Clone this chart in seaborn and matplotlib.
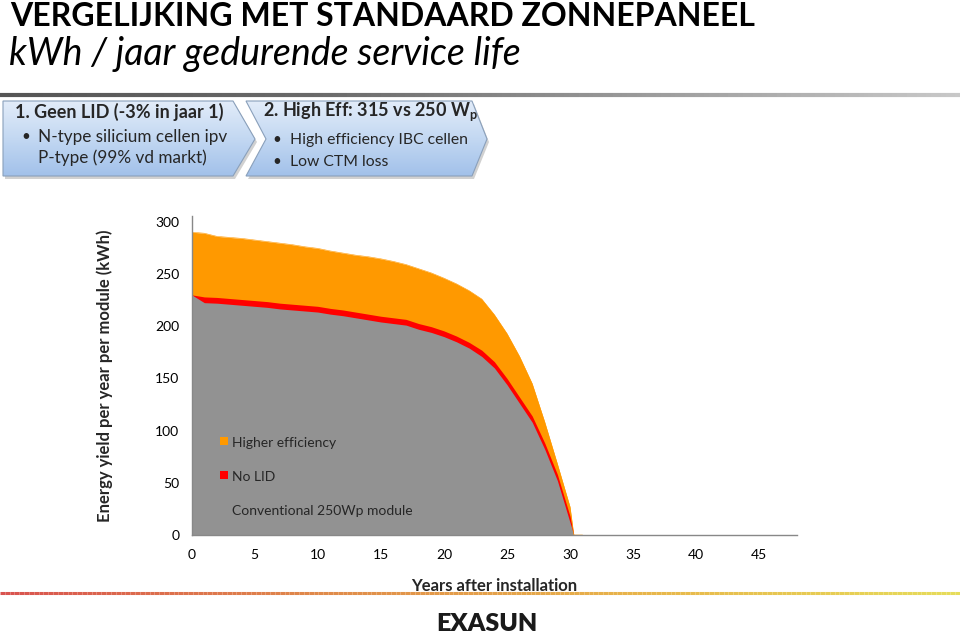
import numpy as np
import pandas as pd
import matplotlib
matplotlib.use("Agg")
import matplotlib.pyplot as plt
import seaborn as sns
from matplotlib.patches import Polygon
from matplotlib.collections import LineCollection
from matplotlib.colors import LinearSegmentedColormap

# ---------------- data ----------------
years = [0, 1, 2, 3, 4, 5, 6, 7, 8, 9, 10, 11, 12, 13, 14, 15, 16, 17, 18, 19, 20,
         21, 22, 23, 24, 25, 26, 27, 28, 29, 30, 30.3, 31]
conventional = [230, 222.5, 222, 221, 220, 219, 218, 216.5, 215.5, 214.5, 213.5, 211.5, 210,
                208, 206, 204, 202.5, 201, 197, 194, 190, 185, 179, 171, 160, 144, 126,
                108, 82, 52, 12, 0, 0]
no_lid = [230, 228, 227.5, 226.5, 225.5, 224.5, 223.5, 222, 221, 220, 219, 217, 215.5,
          213.5, 211.5, 209.5, 208, 206.5, 202.5, 199.5, 195.5, 190.5, 184.5, 177, 166, 150, 132,
          114, 88, 58, 18, 0, 0]
higher_eff = [290, 289, 286, 285, 284, 282.5, 281, 279.5, 278, 276, 274.5, 272, 270,
              268, 266.5, 264.5, 262, 259, 255, 251, 246, 240.5, 234, 226, 211, 193, 171,
              145, 108, 68, 27, 0, 0]
series_labels = ["Higher efficiency", "No LID", "Conventional 250Wp module"]
series_colors = ["#FF9900", "#FF0000", "#929292"]
x_ticks = [0, 5, 10, 15, 20, 25, 30, 35, 40, 45]
y_ticks = [0, 50, 100, 150, 200, 250, 300]

title = "VERGELIJKING MET STANDAARD ZONNEPANEEL"
subtitle = "kWh / jaar gedurende service life"
box1_title = "1. Geen LID (-3% in jaar 1)"
box1_items = ["N-type silicium cellen ipv", "P-type (99% vd markt)"]
box2_title = "2. High Eff: 315 vs 250 W$_\\mathregular{p}$"
box2_items = ["High efficiency IBC cellen", "Low CTM loss"]

df = pd.DataFrame({"year": years, "conventional": conventional,
                   "no_lid": no_lid, "higher_eff": higher_eff})

# ---------------- figure ----------------
sns.set_theme(style="white")
plt.rcParams["font.family"] = ["Lato", "DejaVu Sans"]

W, H = 960, 638
fig = plt.figure(figsize=(W / 100, H / 100), dpi=100)

# background overlay in pixel coordinates
bg = fig.add_axes([0, 0, 1, 1], zorder=0)
bg.set_xlim(0, W)
bg.set_ylim(H, 0)
bg.axis("off")

# title
bg.text(10, 16, title, fontsize=23, fontweight="bold", va="center", ha="left",
        color="black")
bg.text(9, 54, subtitle, fontsize=27, style="italic", va="center", ha="left",
        color="black")

# top gradient line (dark gray fading)
xs = np.linspace(0, W, 200)
segs = [[(xs[i], 95), (xs[i + 1], 95)] for i in range(len(xs) - 1)]
cm_top = LinearSegmentedColormap.from_list("top", ["#555555", "#6a6a6a", "#9a9a9a", "#c8c8c8"])
lc = LineCollection(segs, colors=cm_top(np.linspace(0, 1, len(segs))), linewidths=3)
bg.add_collection(lc)

# bottom gradient line (red-orange-yellow)
segs2 = [[(xs[i], 593), (xs[i + 1], 593)] for i in range(len(xs) - 1)]
cm_bot = LinearSegmentedColormap.from_list("bot", ["#d9534f", "#e08a4a", "#e8b54a", "#e6dc5a"])
lc2 = LineCollection(segs2, colors=cm_bot(np.linspace(0, 1, len(segs2))), linewidths=2.2)
bg.add_collection(lc2)

# chevron boxes with gradient fill
grad = np.linspace(0, 1, 100).reshape(-1, 1)
cm_box = LinearSegmentedColormap.from_list("box", ["#e2ecf9", "#c3d8f2", "#a2c1ea"])


def chevron(pts):
    shadow = Polygon([(px + 2, py + 3) for px, py in pts], closed=True,
                     facecolor="#000000", alpha=0.18, edgecolor="none", zorder=1)
    bg.add_patch(shadow)
    poly = Polygon(pts, closed=True, facecolor="none", edgecolor="#8aa0bb", lw=0.8, zorder=3)
    bg.add_patch(poly)
    xs_ = [p[0] for p in pts]
    ys_ = [p[1] for p in pts]
    im = bg.imshow(grad, cmap=cm_box, aspect="auto",
                   extent=(min(xs_), max(xs_), max(ys_), min(ys_)), zorder=2)
    im.set_clip_path(poly)


chevron([(3, 101), (233, 101), (255, 139), (233, 176), (3, 176)])
chevron([(246, 101), (472, 101), (487, 139), (472, 176), (246, 176), (266, 139)])
bg.set_xlim(0, W)
bg.set_ylim(H, 0)

bg.text(15, 112, box1_title, fontsize=13, fontweight="bold", va="center", ha="left", zorder=4)
bg.text(21, 137, "•", fontsize=11, va="center", ha="left", zorder=4)
bg.text(38, 137, box1_items[0], fontsize=12.3, va="center", ha="left", zorder=4)
bg.text(38, 158, box1_items[1], fontsize=12.3, va="center", ha="left", zorder=4)
bg.text(263, 112, box2_title, fontsize=13, fontweight="bold", va="center", ha="left", zorder=4)
bg.text(272, 140, "•", fontsize=11, va="center", ha="left", zorder=4)
bg.text(290, 140, box2_items[0], fontsize=11.3, va="center", ha="left", zorder=4)
bg.text(272, 162, "•", fontsize=11, va="center", ha="left", zorder=4)
bg.text(290, 162, box2_items[1], fontsize=11.3, va="center", ha="left", zorder=4)

# logo as text
bg.text(487, 624, "EXASUN", fontsize=18, fontweight="heavy", va="center", ha="center",
        color="#1a1a1a")

# ---------------- chart ----------------
left = 191.7 / W
right = 797 / W
bottom = 1 - 535 / H
top = 1 - 216 / H
ax = fig.add_axes([left, bottom, right - left, top - bottom], zorder=5)
ax.patch.set_alpha(0)

ax.fill_between(df["year"], 0, df["higher_eff"], color=series_colors[0], lw=0)
ax.fill_between(df["year"], 0, df["no_lid"], color=series_colors[1], lw=0)
ax.fill_between(df["year"], 0, df["conventional"], color=series_colors[2], lw=0)
sns.lineplot(data=df, x="year", y="higher_eff", ax=ax, color=series_colors[0], lw=0.4)

ax.set_xlim(0, 48)
ax.set_ylim(0, 305.5)
ax.set_xticks(x_ticks)
ax.set_yticks(y_ticks)
ax.tick_params(axis="both", which="both", direction="out", length=4, width=0.8,
               color="#888888", labelsize=10, labelcolor="black")
ax.tick_params(axis="x", pad=6)
ax.tick_params(axis="y", pad=5)
for s in ["top", "right"]:
    ax.spines[s].set_visible(False)
for s in ["left", "bottom"]:
    ax.spines[s].set_color("#888888")
    ax.spines[s].set_linewidth(1.0)

ax.set_xlabel("Years after installation", fontsize=12, fontweight="bold")
ax.set_ylabel("Energy yield per year per module (kWh)", fontsize=12, fontweight="bold")
ax.xaxis.set_label_coords(0.5, -0.135)
ax.yaxis.set_label_coords(-0.13, 0.5)

# in-chart legend
leg_y = [443, 477, 511]
for lab, yy in zip(series_labels, leg_y):
    fig.text(232 / W, 1 - yy / H, lab, fontsize=10, va="center", ha="left", zorder=10)
for lab, col, yy in zip(series_labels, series_colors, leg_y):
    if lab != series_labels[2]:
        fig.patches.append(plt.Rectangle((220 / W, 1 - (yy + 2) / H), 8 / W, 8 / H,
                                         facecolor=col, edgecolor="none",
                                         transform=fig.transFigure, figure=fig, zorder=10))

fig.savefig("out.png", dpi=100)
